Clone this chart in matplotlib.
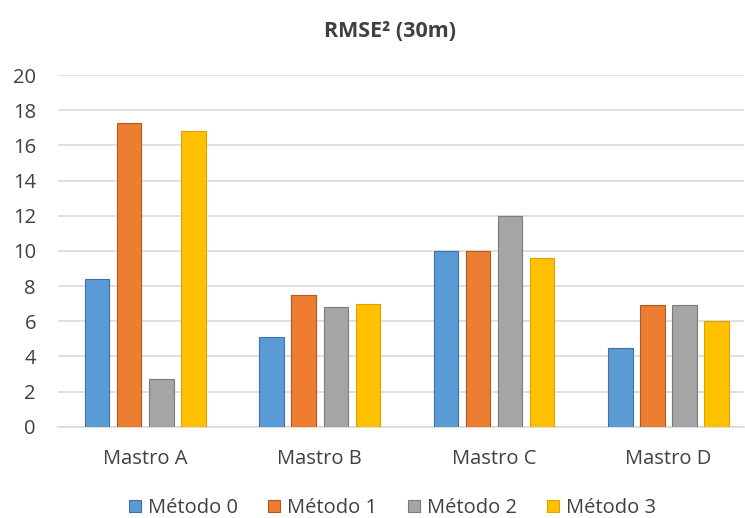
import numpy as np
import matplotlib.pyplot as plt

plt.rcParams['font.family'] = ['Open Sans', 'DejaVu Sans']

# RMSE^2 per mast and method
mastros = ['Mastro A', 'Mastro B', 'Mastro C', 'Mastro D']
metodos = ['Método 0', 'Método 1', 'Método 2', 'Método 3']
metodo0 = [8.4, 5.1, 10.0, 4.5]
metodo1 = [17.3, 7.5, 10.0, 6.9]
metodo2 = [2.7, 6.8, 12.0, 6.9]
metodo3 = [16.8, 7.0, 9.6, 6.0]

cores = ['#5B9BD5', '#ED7D31', '#A5A5A5', '#FFC000']
bordas = ['#41719C', '#AE5A21', '#7B7B7B', '#D9A300']

fig = plt.figure(figsize=(7.45, 5.18), dpi=100)
ax = fig.add_axes([0.078, 0.176, 0.92, 0.679])

x = np.arange(len(mastros))
largura = 0.14
passo = 0.184
for i, vals in enumerate([metodo0, metodo1, metodo2, metodo3]):
    ax.bar(x + (i - 1.5) * passo, vals, largura, color=cores[i],
           edgecolor=bordas[i], linewidth=0.8, label=metodos[i], zorder=3)

ax.set_xlim(-0.5, 3.43)
ax.set_ylim(0, 20)
ax.set_yticks(range(0, 21, 2))
ax.set_xticks(x)
ax.set_xticklabels(mastros)
ax.yaxis.grid(True, color='#D9D9D9', linewidth=1.2, zorder=0)
for s in ['top', 'right', 'left']:
    ax.spines[s].set_visible(False)
ax.spines['bottom'].set_color('#D9D9D9')
ax.spines['bottom'].set_linewidth(1.2)
ax.tick_params(axis='both', length=0, labelsize=14.5, labelcolor='#404040')
ax.tick_params(axis='x', pad=16)
ax.tick_params(axis='y', pad=16)

fig.text(0.523, 0.94, 'RMSE² (30m)', ha='center', va='center',
         fontsize=15.5, fontweight='bold', color='#404040')

fig.legend(loc='lower center', ncol=4, frameon=False, fontsize=14.5,
           bbox_to_anchor=(0.527, -0.035), handlelength=0.6, handleheight=0.6,
           handletextpad=0.35, columnspacing=1.5, labelcolor='#404040')

fig.savefig('out.png', dpi=100)
